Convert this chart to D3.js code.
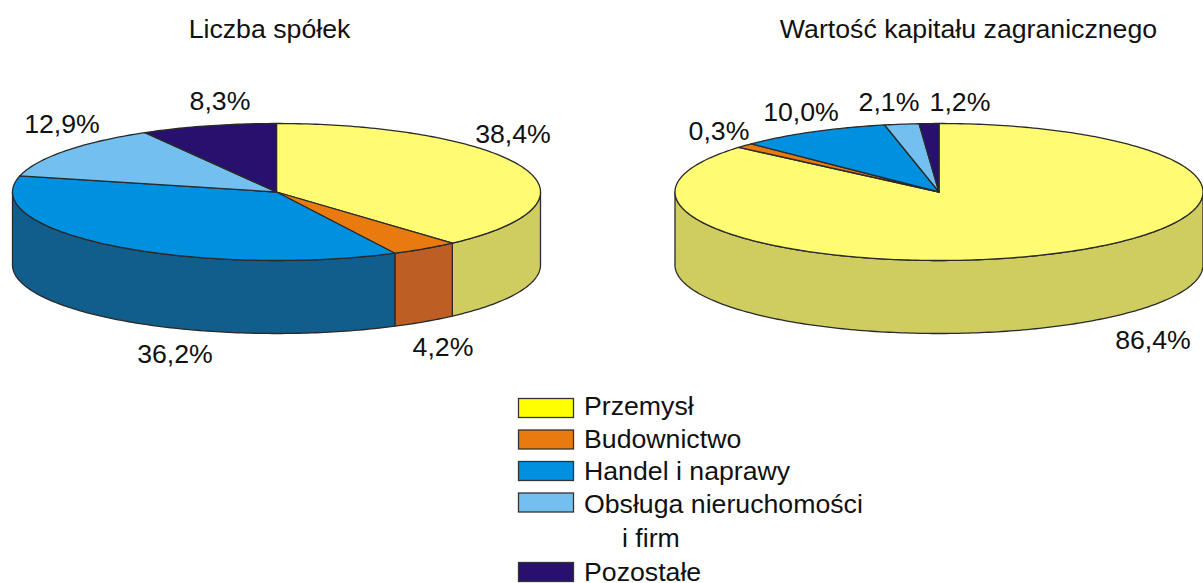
<!DOCTYPE html>
<html lang="pl">
<head>
<meta charset="UTF-8">
<title>Liczba spółek i wartość kapitału zagranicznego</title>
<style>
    html, body { margin: 0; padding: 0; background: #fff; }
    svg { display: block; }
    text { font-family: "Liberation Sans", Arial, sans-serif; font-size: 26.7px; fill: #111; }
</style>
</head>
<body>
<div id="chart"></div>
<script src="https://d3js.org/d3.v7.min.js"></script>
<script>
// data
let categories = ["Przemysł", "Budownictwo", "Handel i naprawy", "Obsługa nieruchomości", "Pozostałe"];
let spolkiValues = [38.4, 4.2, 36.2, 12.9, 8.3];
let kapitalLabels = [86.4, 0.3, 10.0, 2.1, 1.2];
// slice sizes: the 0,3% wedge is drawn wider there than its label says
let kapitalSlices = [86.3, 1.1, 9.3, 2.1, 1.2];

// colours
let topColors = ["#fffb72", "#e87a10", "#0090e0", "#73c0f0", "#28106f"];
let wallColors = ["#cfcc60", "#bd5f25", "#115d8c", "#4f86a8", "#1a0a4a"];
let legendColors = ["#ffff00", "#e87a10", "#0090e0", "#73c0f0", "#28106f"];

let width = 1203, height = 583;
let rx = 264, ry = 68.5, depth = 73;

let svg = d3.select("#chart").append("svg")
    .attr("width", width)
    .attr("height", height);

let pie = d3.pie().sort(null).value(d => d);

// one pie, tilted. angle 0 is at the top, going clockwise like d3.pie
function drawPie(values, labels, cx, cy, title, titleX, labelPos) {
    let g = svg.append("g").attr("transform", `translate(${cx},${cy})`);
    let slices = pie(values);
    let px = a => rx * Math.sin(a);
    let py = a => -ry * Math.cos(a);
    let line = d3.line().x(d => d[0]).y(d => d[1]);

    function rimPoints(a0, a1, dy) {
        let n = Math.max(2, Math.ceil((a1 - a0) * 60));
        return d3.range(n + 1).map(i => {
            let a = a0 + (a1 - a0) * i / n;
            return [px(a), py(a) + dy];
        });
    }

    // walls: only the front half of the rim can be seen
    slices.forEach((s, i) => {
        let a0 = Math.max(s.startAngle, Math.PI / 2);
        let a1 = Math.min(s.endAngle, Math.PI * 1.5);
        if (a1 <= a0) return;
        let pts = rimPoints(a0, a1, 0).concat(rimPoints(a0, a1, depth).reverse());
        g.append("path")
            .attr("d", line(pts) + "Z")
            .attr("fill", wallColors[i])
            .attr("stroke", "#2a2a2a")
            .attr("stroke-width", 1.3)
            .attr("stroke-linejoin", "round");
    });

    // top
    g.selectAll(".slice")
        .data(slices)
        .join("path")
        .attr("class", "slice")
        .attr("d", s => line([[0, 0]].concat(rimPoints(s.startAngle, s.endAngle, 0))) + "Z")
        .attr("fill", (s, i) => topColors[i])
        .attr("stroke", "#2a2a2a")
        .attr("stroke-width", 1.3)
        .attr("stroke-linejoin", "round");

    svg.append("text")
        .attr("x", titleX)
        .attr("y", 38)
        .attr("text-anchor", "middle")
        .text(title);

    svg.selectAll(null)
        .data(labels.map((v, i) => ({v: v, pos: labelPos[i]})))
        .join("text")
        .attr("x", d => d.pos[0])
        .attr("y", d => d.pos[1])
        .attr("text-anchor", "middle")
        .text(d => d.v.toFixed(1).replace(".", ",") + "%");
}

drawPie(spolkiValues, spolkiValues, 276.5, 192, "Liczba spółek", 269.5,
    [[513, 143], [443, 356], [175, 363], [62, 133], [220, 110]]);
drawPie(kapitalSlices, kapitalLabels, 939, 192, "Wartość kapitału zagranicznego", 968.5,
    [[1153, 349], [719, 140], [801, 121], [889, 111], [960, 111]]);

// legend, Obsługa takes two text lines
let legendRows = [0, 1, 2, 3, 5];
let rowY = d3.scaleLinear().domain([0, 3, 5]).range([415, 513, 581]);
let swatchY = d3.scaleLinear().domain([0, 3, 5]).range([398.5, 493, 562.5]);
let legend = svg.append("g");

legend.selectAll("rect")
    .data(categories)
    .join("rect")
    .attr("x", 518.5)
    .attr("y", (d, i) => swatchY(legendRows[i]))
    .attr("width", 55)
    .attr("height", 19)
    .attr("fill", (d, i) => legendColors[i])
    .attr("stroke", "#333")
    .attr("stroke-width", 1.3);

legend.selectAll(".name")
    .data(categories)
    .join("text")
    .attr("class", "name")
    .attr("x", 584)
    .attr("y", (d, i) => rowY(legendRows[i]))
    .text(d => d);

legend.append("text")
    .attr("x", 622)
    .attr("y", rowY(4))
    .text("i firm");
</script>
</body>
</html>
